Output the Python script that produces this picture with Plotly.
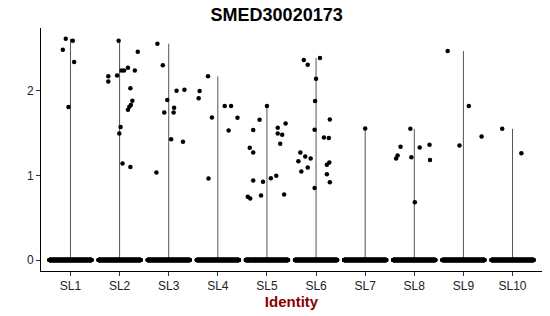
import numpy as np
import plotly.graph_objects as go

title = "SMED30020173"
categories = ["SL1", "SL2", "SL3", "SL4", "SL5", "SL6", "SL7", "SL8", "SL9", "SL10"]

# non-zero expression values per identity, with horizontal jitter offsets
values = {
    "SL1": [2.615, 2.59, 2.485, 2.34, 1.807],
    "SL2": [2.59, 2.46, 2.17, 2.11, 2.18, 2.24, 2.24, 2.27, 2.24, 2.03, 1.88, 1.775, 1.81, 1.83,
            1.57, 1.495, 1.14, 1.10],
    "SL3": [2.556, 2.30, 1.89, 1.743, 1.80, 1.743, 2.0, 2.01, 1.428, 1.396, 1.033],
    "SL4": [2.17, 1.996, 1.91, 1.684, 1.82, 1.82, 1.53, 1.68, 0.962],
    "SL5": [1.82, 1.657, 1.535, 1.325, 1.27, 0.94, 0.746, 0.726, 0.761, 0.923, 0.967, 0.994,
            1.562, 1.495, 1.479, 1.373, 1.613, 0.773],
    "SL6": [2.363, 2.308, 2.387, 2.142, 1.878, 1.538, 1.66, 1.447, 1.44, 1.27, 1.222, 1.199,
            1.168, 1.045, 1.092, 1.152, 1.124, 1.014, 0.92, 0.852],
    "SL7": [1.554],
    "SL8": [1.55, 1.337, 1.234, 1.199, 1.215, 1.33, 1.361, 1.18, 0.683],
    "SL9": [2.47, 1.82, 1.353, 1.46],
    "SL10": [1.55, 1.262],
}
offsets = {
    "SL1": [-0.096, 0.047, -0.156, 0.075, -0.04],
    "SL2": [-0.02, 0.37, -0.23, -0.23, -0.05, 0.04, 0.09, 0.17, 0.31, 0.22, 0.26, 0.17, 0.2, 0.23,
            0.02, -0.006, 0.06, 0.22],
    "SL3": [-0.23, -0.12, -0.03, -0.09, 0.11, 0.1, 0.16, 0.32, 0.05, 0.29, -0.25],
    "SL4": [-0.2, -0.37, -0.39, -0.12, 0.14, 0.27, 0.22, 0.4, -0.19],
    "SL5": [0.0, -0.15, -0.28, -0.35, -0.28, -0.28, -0.39, -0.34, -0.12, -0.08, 0.08, 0.19,
            0.22, 0.22, 0.31, 0.27, 0.38, 0.35],
    "SL6": [-0.25, -0.17, 0.08, 0.0, -0.02, -0.03, 0.28, 0.16, 0.26, -0.32, -0.22, -0.11,
            -0.36, -0.3, -0.17, 0.27, 0.22, 0.22, 0.28, -0.03],
    "SL7": [0.0],
    "SL8": [-0.08, -0.28, -0.34, -0.37, -0.06, 0.11, 0.31, 0.32, 0.01],
    "SL9": [-0.32, 0.11, -0.08, 0.37],
    "SL10": [-0.21, 0.18],
}
# number of cells with zero expression per identity
zero_counts = [300, 300, 300, 300, 300, 300, 300, 300, 300, 300]

fig = go.Figure()

# violins (degenerate to thin vertical lines from 0 to the group max)
for i, cat in enumerate(categories):
    ymax = max(values[cat])
    fig.add_trace(go.Scatter(x=[i, i], y=[0, ymax], mode="lines",
                             line=dict(color="#555555", width=1), hoverinfo="skip",
                             showlegend=False))

# jittered points
for i, cat in enumerate(categories):
    zx = i + np.linspace(-0.43, 0.43, zero_counts[i])
    xs = list(zx) + [i + o for o in offsets[cat]]
    ys = [0.0] * zero_counts[i] + values[cat]
    fig.add_trace(go.Scatter(x=xs, y=ys, mode="markers",
                             marker=dict(color="black", size=4.5, line=dict(width=0)),
                             showlegend=False))

fig.update_layout(
    width=550, height=316,
    margin=dict(l=41, r=8, t=28, b=45),
    paper_bgcolor="white", plot_bgcolor="white",
    font=dict(family="Liberation Sans, Arial, sans-serif", color="#222222", size=12),
    title=dict(text="<b>" + title + "</b>", x=0.503, xref="container", y=0.953,
               yref="container", yanchor="middle",
               font=dict(size=18, color="black")),
)
fig.update_xaxes(
    range=[-0.6, 9.6], tickvals=list(range(len(categories))), ticktext=categories,
    showline=True, linecolor="black", linewidth=1, ticks="outside", ticklen=4,
    tickcolor="#333333", showgrid=False, zeroline=False,
    tickfont=dict(size=12, color="#222222"),
    title=dict(text="<b>Identity</b>", font=dict(size=15, color="#8B0000"), standoff=2),
)
fig.update_yaxes(
    range=[-0.13, 2.741], tickvals=[0, 1, 2], ticktext=["0", "1", "2"],
    showline=True, linecolor="black", linewidth=1, ticks="outside", ticklen=4,
    tickcolor="#333333", showgrid=False, zeroline=False,
    tickfont=dict(size=12, color="#222222"),
)

fig.write_html("out.html")
